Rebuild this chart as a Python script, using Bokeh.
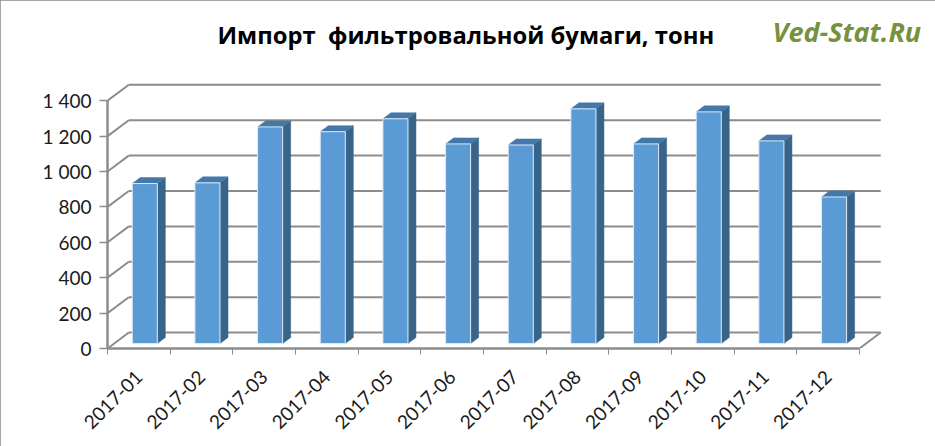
from bokeh.plotting import figure
from bokeh.models import FixedTicker, Range1d, Title
from bokeh.embed import file_html
from bokeh.resources import INLINE

months = ["2017-01", "2017-02", "2017-03", "2017-04", "2017-05", "2017-06",
          "2017-07", "2017-08", "2017-09", "2017-10", "2017-11", "2017-12"]
values = [904, 908, 1224, 1197, 1270, 1128, 1122, 1326, 1128, 1309, 1145, 828]
y_ticks = [0, 200, 400, 600, 800, 1000, 1200, 1400]
y_labels = ["0", "200", "400", "600", "800", "1 000", "1 200", "1 400"]
title_text = "Импорт \u00a0фильтровальной бумаги, тонн"
mark_text = "Ved-Stat.Ru"

WALL_DX, WALL_DV = 0.34, 90      # depth of the 3-D box, in data units
BAR_DX, BAR_DV = 0.128, 34       # depth of each bar
BAR_W, BAR_OFF, BAR_BASE = 0.40, 0.595, 28
GRID = "#8c8c8c"
FRONT, SIDE, TOP = "#5b9bd5", "#386489", "#4478a8"

p = figure(width=935, height=446, output_backend="svg", toolbar_location=None,
           x_range=Range1d(0, 12.4), y_range=Range1d(0, 1503),
           min_border_left=107, min_border_right=51, min_border_top=82,
           min_border_bottom=98, outline_line_color=None, title=title_text,
           styles={"outline": "2px solid #888888", "outline-offset": "-2px"})
p.grid.visible = False

p.title.text_font = "Open Sans"
p.title.text_font_style = "bold"
p.title.text_font_size = "23.8px"
p.title.text_color = "#000000"
p.title.align = "left"
p.title.offset = 110
p.title.standoff = -48

# spacer panel that lifts the two texts above clear of the plot box
p.add_layout(Title(text=" ", standoff=32, text_font="Open Sans", text_font_size="10px"), "above")
p.add_layout(Title(text=mark_text, align="left", offset=665, standoff=-31,
                   text_font="Open Sans", text_font_style="bold italic",
                   text_font_size="27px", text_color="#76923c"), "above")

# box: side wall, back wall, floor edge
p.segment([0] * len(y_ticks), y_ticks, [WALL_DX] * len(y_ticks), [v + WALL_DV for v in y_ticks],
          line_color=GRID, line_width=2)
p.segment([WALL_DX] * len(y_ticks), [v + WALL_DV for v in y_ticks],
          [12 + WALL_DX] * len(y_ticks), [v + WALL_DV for v in y_ticks],
          line_color=GRID, line_width=2)
p.segment([12], [0], [12 + WALL_DX], [WALL_DV], line_color=GRID, line_width=2)

lefts = [i + BAR_OFF - BAR_W / 2 for i in range(len(values))]
rights = [l + BAR_W for l in lefts]
tops = [v + BAR_BASE for v in values]

p.patches([[r, r + BAR_DX, r + BAR_DX, r] for r in rights],
          [[BAR_BASE, BAR_BASE + BAR_DV, t + BAR_DV, t] for t in tops],
          fill_color=SIDE, line_color=SIDE, line_width=0.5)
p.patches([[l, l + BAR_DX, r + BAR_DX, r] for l, r in zip(lefts, rights)],
          [[t, t + BAR_DV, t + BAR_DV, t] for t in tops],
          fill_color=TOP, line_color=TOP, line_width=0.5)
p.quad(left=lefts, right=rights, bottom=BAR_BASE, top=tops,
       fill_color=FRONT, line_color="#dcebf7", line_width=1)

# axes
xa = p.xaxis[0]
centers = [i + 0.5 for i in range(len(months))]
xa.ticker = FixedTicker(ticks=centers, minor_ticks=list(range(13)))
xa.major_label_overrides = {c: m for c, m in zip(centers, months)}
xa.major_label_orientation = 0.785
xa.major_tick_line_color = None
xa.major_tick_out = 0
xa.major_tick_in = 0
xa.minor_tick_out = 6
xa.minor_tick_in = 0
xa.minor_tick_line_color = GRID
xa.minor_tick_line_width = 1
xa.axis_line_color = GRID
xa.axis_line_width = 2.5
xa.bounds = (0, 12)
xa.major_label_standoff = 19
xa.major_label_text_font = "Lato"
xa.major_label_text_font_size = "19px"
xa.major_label_text_color = "#1a1a1a"

ya = p.yaxis[0]
ya.ticker = FixedTicker(ticks=y_ticks)
ya.major_label_overrides = dict(zip(y_ticks, y_labels))
ya.minor_tick_out = 0
ya.minor_tick_in = 0
ya.major_tick_out = 8
ya.major_tick_in = 0
ya.major_tick_line_color = GRID
ya.major_tick_line_width = 1.5
ya.axis_line_color = GRID
ya.axis_line_width = 2.5
ya.bounds = (0, 1400)
ya.major_label_standoff = 8
ya.major_label_text_font = "Lato"
ya.major_label_text_font_size = "19px"
ya.major_label_text_color = "#1a1a1a"

open("out.html", "w").write(file_html(p, INLINE))
